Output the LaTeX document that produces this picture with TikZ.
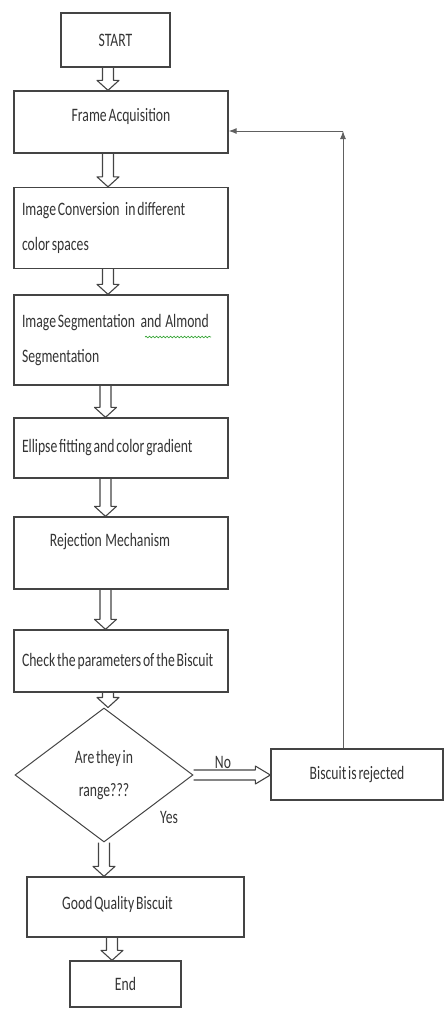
\documentclass[tikz,border=0pt]{standalone}
\usepackage{fontspec}
\setmainfont{Carlito}[FakeStretch=0.72, WordSpace={0.6,0,0}]
\usepackage{tikz}
\usetikzlibrary{positioning, calc, arrows.meta, shapes.geometric, decorations.pathmorphing}
\definecolor{lineC}{RGB}{68, 68, 68}
\definecolor{textC}{RGB}{52, 52, 52}

\tikzset{
  stepbox/.style={draw=lineC, line width=1.3pt, rectangle, inner sep=0pt,
    text=textC, font=\fontsize{19}{35}\selectfont, align=center},
  leftbox/.style={stepbox, align=flush left, inner xsep=8pt, text width=198pt},
  decision/.style={draw=lineC, line width=1pt, diamond, aspect=1.33, inner sep=0pt,
    minimum width=178pt, minimum height=134pt, text=textC,
    font=\fontsize{19}{33}\selectfont, align=center},
  % hollow block arrows, downward and to the right
  vdbl/.style={draw=lineC, line width=1.1pt, line join=round,
    to path={let \p1=(\tikztostart), \p2=(\tikztotarget) in
      ({\x1-5.5pt},\y1) -- ({\x1-5.5pt},{\y2+10pt}) -- ({\x1-11pt},{\y2+10pt})
      -- (\x1,\y2) -- ({\x1+11pt},{\y2+10pt}) -- ({\x1+5.5pt},{\y2+10pt})
      -- ({\x1+5.5pt},\y1)}},
  hdbl/.style={draw=lineC, line width=1.1pt, line join=round,
    to path={let \p1=(\tikztostart), \p2=(\tikztotarget) in
      (\x1,{\y1+5pt}) -- ({\x2-15pt},{\y1+5pt}) -- ({\x2-15pt},{\y1+9pt})
      -- (\x2,\y1) -- ({\x2-15pt},{\y1-9pt}) -- ({\x2-15pt},{\y1-5pt})
      -- (\x1,{\y1-5pt}) \tikztonodes}},
  fb/.style={draw=lineC!85, line width=1pt, -{Latex[length=8pt, width=6pt]}},
  lbl/.style={text=textC, font=\fontsize{19}{22}\selectfont}
}

\begin{document}
\begin{tikzpicture}[x=1pt, y=-1pt]
  \useasboundingbox (0,0) rectangle (445,1009);
  % main column
  \node[stepbox, minimum width=109pt, minimum height=54pt] (start) at (115.5,40) {START};
  \node[stepbox, minimum width=214pt, minimum height=62pt, text depth=14pt] (frame) at (121,122) {Frame Acquisition};
  \node[leftbox, minimum height=81pt] (convert) at (121,228) {Image Conversion\ \ \ in different\\color spaces};
  \node[leftbox, minimum height=90pt] (segment) at (121,340) {Image Segmentation\ \ \ and\ \ Almond\\Segmentation};
  \node[leftbox, minimum height=60pt] (ellipse) at (121,448) {Ellipse fitting\ and color gradient};
  \node[stepbox, minimum width=214pt, minimum height=72pt, text depth=26pt] (mech) at (121,553) {\hspace*{-22pt}Rejection\ \ Mechanism};
  \node[leftbox, minimum height=62pt] (check) at (121,661) {Check the parameters of the Biscuit};
  \node[decision] (range) at (104,775) {\raisebox{-5pt}{Are they in}\\\raisebox{-5pt}{range???}};
  \node[stepbox, minimum width=172pt, minimum height=51pt] (reject) at (357,774.5) {Biscuit is rejected};
  \node[stepbox, minimum width=217pt, minimum height=60pt, text depth=8pt] (good) at (135.5,907) {\hspace*{-36pt}Good Quality Biscuit};
  \node[stepbox, minimum width=111pt, minimum height=46pt] (stop) at (125.5,984) {End};
  % spell-check underline
  \draw[green!55!black!80, line width=0.7pt, decorate,
    decoration={snake, amplitude=0.8pt, segment length=3.5pt}] (145,337) -- (211,337);
  % hollow arrows
  \draw[vdbl] (start.south -| 108,0) to (frame.north -| 108,0);
  \draw[vdbl] (frame.south -| 108,0) to (convert.north -| 108,0);
  \draw[vdbl] (convert.south -| 108,0) to (segment.north -| 108,0);
  \draw[vdbl] (segment.south -| 105.5,0) to (ellipse.north -| 105.5,0);
  \draw[vdbl] (ellipse.south -| 105.5,0) to (mech.north -| 105.5,0);
  \draw[vdbl] (mech.south -| 105.5,0) to (check.north -| 105.5,0);
  \draw[vdbl] (check.south -| 108,0) to (range.north -| 108,0);
  \draw[vdbl] (range.south -| 104,0) to (good.north -| 104,0);
  \draw[vdbl] (good.south -| 112,0) to (stop.north -| 112,0);
  \draw[hdbl] (range.east) to (reject.west |- range.east);
  \node[lbl] (no) at (223,762) {No};
  \node[lbl] (yes) at (169,817) {Yes};
  % feedback loop
  \coordinate (turn) at (343,131);
  \draw[fb] (reject.north -| turn) -- (turn);
  \draw[fb] (turn) -- (frame.east |- turn);
\end{tikzpicture}
\end{document}
